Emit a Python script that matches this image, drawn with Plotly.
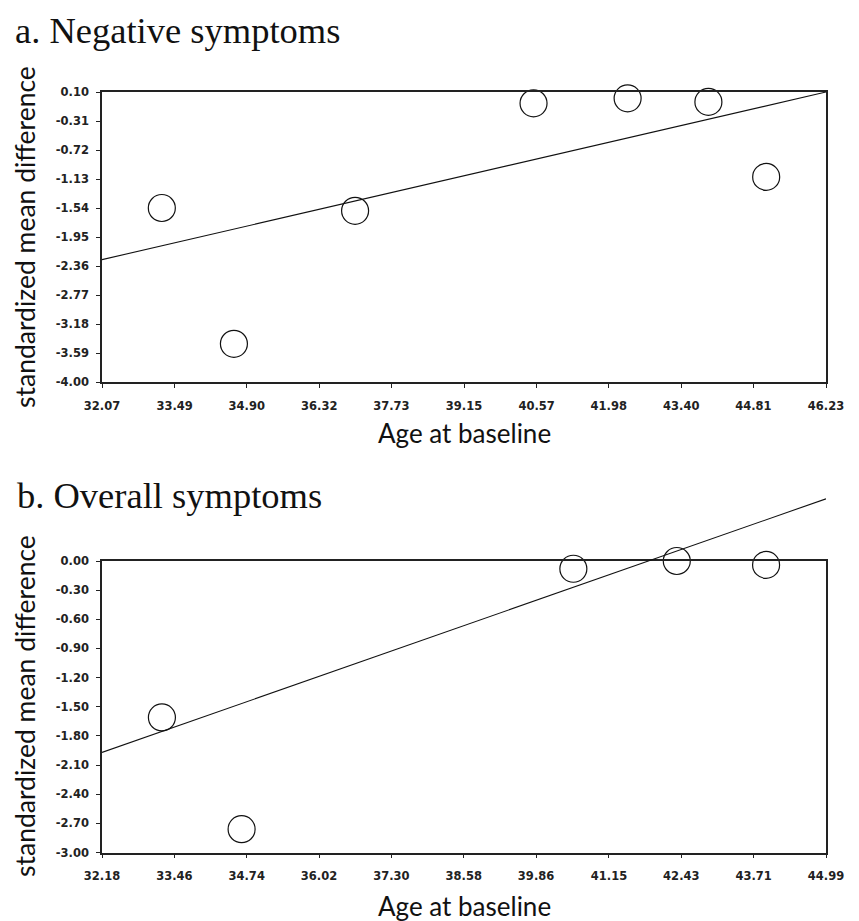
import plotly.graph_objects as go

# window is 859x921; the page body has an 8px margin, so the figure is 8px smaller
WIN_W, WIN_H = 859, 921
OFF = 8
W, H = WIN_W - OFF, WIN_H - OFF

# ---- data: a. Negative symptoms ----
neg_age = [33.24, 34.65, 37.02, 40.51, 42.35, 43.93, 45.06]
neg_smd = [-1.54, -3.46, -1.58, -0.06, 0.01, -0.04, -1.10]
neg_fit_x = [32.07, 46.23]
neg_fit_y = [-2.27, 0.10]
neg_xticks = ["32.07", "33.49", "34.90", "36.32", "37.73", "39.15", "40.57", "41.98", "43.40", "44.81", "46.23"]
neg_yticks = ["0.10", "-0.31", "-0.72", "-1.13", "-1.54", "-1.95", "-2.36", "-2.77", "-3.18", "-3.59", "-4.00"]

# ---- data: b. Overall symptoms ----
ov_age = [33.24, 34.65, 40.52, 42.35, 43.93]
ov_smd = [-1.61, -2.76, -0.08, 0.00, -0.04]
ov_fit_x = [32.18, 44.99]
ov_fit_y = [-1.97, 0.64]
ov_xticks = ["32.18", "33.46", "34.74", "36.02", "37.30", "38.58", "39.86", "41.15", "42.43", "43.71", "44.99"]
ov_yticks = ["0.00", "-0.30", "-0.60", "-0.90", "-1.20", "-1.50", "-1.80", "-2.10", "-2.40", "-2.70", "-3.00"]

titles = ["a. Negative symptoms", "b. Overall symptoms"]
xtitle = "Age at baseline"
ytitle = "standardized mean difference"


def px_x(p):
    return (p - OFF) / W


def px_y(p):
    return 1 - (p - OFF) / H


xdom = [px_x(102), px_x(826)]
ydom_a = [px_y(382), px_y(92)]
ydom_b = [px_y(852.5), px_y(561)]

fig = go.Figure()

marker = dict(symbol="circle-open", size=27, color="#111", line=dict(width=1.2, color="#111"))
fig.add_trace(go.Scatter(x=neg_age, y=neg_smd, mode="markers", marker=marker,
                         xaxis="x", yaxis="y", cliponaxis=False, showlegend=False))
fig.add_trace(go.Scatter(x=ov_age, y=ov_smd, mode="markers", marker=marker,
                         xaxis="x2", yaxis="y2", cliponaxis=False, showlegend=False))

# regression lines on hidden axes that share the scale but extend upward (so they are not clipped)
fig.add_trace(go.Scatter(x=neg_fit_x, y=neg_fit_y, mode="lines", line=dict(color="#111", width=1.1),
                         xaxis="x3", yaxis="y3", showlegend=False))
fig.add_trace(go.Scatter(x=ov_fit_x, y=ov_fit_y, mode="lines", line=dict(color="#111", width=1.1),
                         xaxis="x4", yaxis="y4", showlegend=False))

tickfont = dict(family="DejaVu Sans", size=11.5, color="#222", weight="bold")


def xaxis(labels, anchor):
    vals = [float(s) for s in labels]
    return dict(domain=xdom, range=[vals[0], vals[-1]], anchor=anchor, automargin=False,
                tickmode="array", tickvals=vals, ticktext=labels,
                showline=True, mirror=True, linecolor="#222", linewidth=1.5,
                ticks="outside", ticklen=4, tickcolor="#222", tickwidth=1.2,
                showgrid=False, zeroline=False, tickfont=tickfont, ticklabelstandoff=8)


def yaxis(labels, dom, anchor):
    vals = [float(s) for s in labels]
    return dict(domain=dom, range=[vals[-1], vals[0]], anchor=anchor, automargin=False,
                tickmode="array", tickvals=vals, ticktext=labels,
                showline=True, mirror=True, linecolor="#222", linewidth=1.5,
                ticks="outside", ticklen=4, tickcolor="#222", tickwidth=1.2,
                showgrid=False, zeroline=False, tickfont=tickfont, ticklabelstandoff=5)


def ext_yaxis(labels, dom, anchor, top_px):
    vals = [float(s) for s in labels]
    lo, hi = vals[-1], vals[0]
    d0, d1 = dom
    d1e = px_y(top_px)
    hie = lo + (hi - lo) * (d1e - d0) / (d1 - d0)
    return dict(domain=[d0, d1e], range=[lo, hie], anchor=anchor, visible=False,
                automargin=False, showgrid=False, zeroline=False)


def ext_xaxis(labels, anchor):
    vals = [float(s) for s in labels]
    return dict(domain=xdom, range=[vals[0], vals[-1]], anchor=anchor, visible=False,
                automargin=False, showgrid=False, zeroline=False)


fig.update_layout(
    width=W, height=H,
    margin=dict(l=0, r=0, t=0, b=0, pad=0, autoexpand=False),
    paper_bgcolor="white", plot_bgcolor="rgba(0,0,0,0)",
    xaxis=xaxis(neg_xticks, "y"),
    yaxis=yaxis(neg_yticks, ydom_a, "x"),
    xaxis2=xaxis(ov_xticks, "y2"),
    yaxis2=yaxis(ov_yticks, ydom_b, "x2"),
    xaxis3=ext_xaxis(neg_xticks, "y3"),
    yaxis3=ext_yaxis(neg_yticks, ydom_a, "x3", 60),
    xaxis4=ext_xaxis(ov_xticks, "y4"),
    yaxis4=ext_yaxis(ov_yticks, ydom_b, "x4", 470),
)

ann = []
title_font = dict(family="Liberation Serif", size=36.5, color="#111")
ann.append(dict(text=titles[0], x=px_x(13), y=px_y(8), xref="paper", yref="paper",
                xanchor="left", yanchor="top", showarrow=False, font=title_font))
ann.append(dict(text=titles[1], x=px_x(15), y=px_y(495), xref="paper", yref="paper",
                xanchor="left", yanchor="middle", showarrow=False, font=title_font))

ylab_font = dict(family="Lato", size=26.5, color="#111")
xlab_font = dict(family="Lato", size=26, color="#111")
for yc in [237, 706]:
    ann.append(dict(text=ytitle, x=px_x(25), y=px_y(yc), xref="paper", yref="paper",
                    xanchor="center", yanchor="middle", textangle=-90, showarrow=False, font=ylab_font))
for yc in [433, 906]:
    ann.append(dict(text=xtitle, x=px_x(465), y=px_y(yc), xref="paper", yref="paper",
                    xanchor="center", yanchor="middle", showarrow=False, font=xlab_font))

fig.update_layout(annotations=ann)

fig.write_html("out.html")
